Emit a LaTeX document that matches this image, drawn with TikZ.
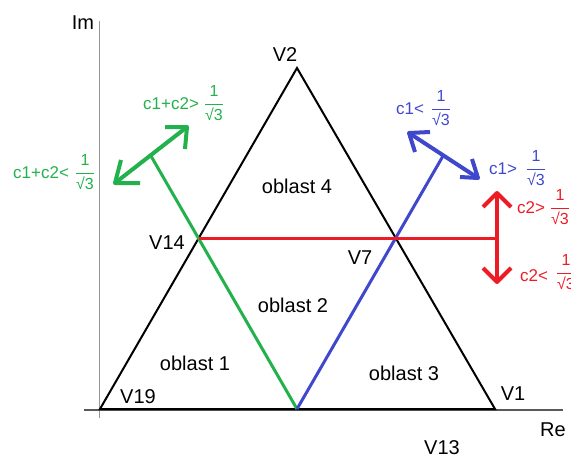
\documentclass[tikz,border=0pt]{standalone}
\usepackage{fontspec}
\setmainfont{Liberation Sans}
\definecolor{pgreen}{RGB}{34,177,76}
\definecolor{pblue}{RGB}{63,72,204}
\definecolor{pred}{RGB}{237,28,36}
\definecolor{axgray}{RGB}{150,150,150}
\tikzset{
  lbl/.style={font=\fontsize{20}{24}\selectfont, inner sep=0pt},
  clbl/.style={font=\fontsize{17}{20}\selectfont, inner sep=0pt, anchor=base west},
  fracl/.style={font=\fontsize{16}{19}\selectfont, inner sep=0pt},
  tri/.style={line width=2pt, black, line join=miter},
  axis/.style={line width=1.5pt, axgray},
  divline/.style={line width=3pt},
  dbl/.style={line width=4pt, line join=round}
}
\newcommand{\invsq}{$\displaystyle\frac{\mbox{1}}{\mbox{√3}}$}
\begin{document}
\begin{tikzpicture}[x=1pt,y=-1pt]
\useasboundingbox (0,0) rectangle (571,458);
% axes
\coordinate (ytop) at (99.5,21);
\coordinate (ybot) at (99.5,418);
\coordinate (xl) at (84,410);
\coordinate (xr) at (563,410);
\draw[axis] (ybot) -- (ytop);
\draw[axis, black!65] (xl) -- (xr);
% triangle
\coordinate (V19) at (100,409);
\coordinate (V2) at (297,68);
\coordinate (V1) at (495,409);
\coordinate (M) at (297,409);
\coordinate (V14) at (198.5,238.5);
\coordinate (V7) at (396,238.5);
\draw[tri] (V19) -- (V2) -- (V1) -- cycle;
% dividing lines
\coordinate (G) at (151,156);
\coordinate (B) at (443,156);
\coordinate (R) at (497,238.5);
\draw[divline, pgreen] (M) -- (G);
\draw[divline, pblue] (M) -- (B);
\draw[divline, pred] (V14) -- (R);
% double arrows (shafts and barbs)
\coordinate (ga) at (115,183);
\coordinate (gb) at (187,127);
\coordinate (ga1) at (140,183);
\coordinate (ga2) at (121,160);
\coordinate (gb1) at (165,127);
\coordinate (gb2) at (185,149);
\draw[dbl, pgreen] (ga) -- (gb);
\draw[dbl, pgreen] (ga1) -- (ga) -- (ga2);
\draw[dbl, pgreen] (gb1) -- (gb) -- (gb2);
\coordinate (ba) at (409,133);
\coordinate (bb) at (478,178);
\coordinate (ba1) at (430,132);
\coordinate (ba2) at (415,152);
\coordinate (bb1) at (460,177);
\coordinate (bb2) at (472,159);
\draw[dbl, pblue] (ba) -- (bb);
\draw[dbl, pblue] (ba1) -- (ba) -- (ba2);
\draw[dbl, pblue] (bb1) -- (bb) -- (bb2);
\coordinate (ra) at (497,193);
\coordinate (rb) at (497,282);
\coordinate (ra1) at (483,207);
\coordinate (ra2) at (511,207);
\coordinate (rb1) at (483,268);
\coordinate (rb2) at (511,268);
\draw[dbl, pred] (ra) -- (rb);
\draw[dbl, pred] (ra1) -- (ra) -- (ra2);
\draw[dbl, pred] (rb1) -- (rb) -- (rb2);
% labels
\node[lbl] (lIm) at (83,23) {Im};
\node[lbl] (lRe) at (553,430) {Re};
\node[lbl] (lV2) at (285,55) {V2};
\node[lbl] (lV19) at (138,397) {V19};
\node[lbl] (lV1) at (513,394) {V1};
\node[lbl] (lV14) at (167,243) {V14};
\node[lbl] (lV7) at (360,258) {V7};
\node[lbl] (lV13) at (442,448) {V13};
\node[lbl] (o4) at (297,186) {oblast 4};
\node[lbl] (o2) at (293,305) {oblast 2};
\node[lbl] (o1) at (195,363) {oblast 1};
\node[lbl] (o3) at (404,373) {oblast 3};
% coloured conditions
\node[clbl, text=pgreen] (gt) at (143,109) {c1+c2>};
\node[fracl, text=pgreen] (gtf) at (214,103) {\invsq};
\node[clbl, text=pgreen] (gl) at (13,178) {c1+c2<};
\node[fracl, text=pgreen] (glf) at (85,172) {\invsq};
\node[clbl, text=pblue] (bl) at (396,114) {c1<};
\node[fracl, text=pblue] (blf) at (441,108) {\invsq};
\node[clbl, text=pblue] (bg) at (489,174) {c1>};
\node[fracl, text=pblue] (bgf) at (536,168) {\invsq};
\node[clbl, text=pred] (rg) at (517,213) {c2>};
\node[fracl, text=pred] (rgf) at (560,207) {\invsq};
\node[clbl, text=pred] (rl) at (520,281) {c2<};
\node[fracl, text=pred] (rlf) at (566,272) {\invsq};
\end{tikzpicture}
\end{document}
